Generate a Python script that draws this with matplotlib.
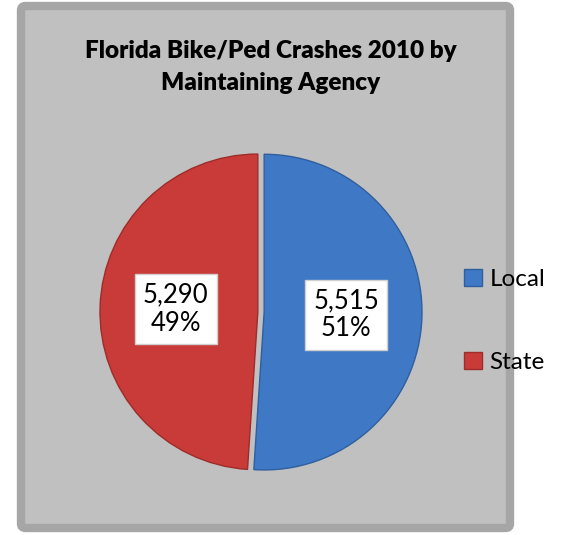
import numpy as np
import matplotlib.pyplot as plt
from matplotlib.patches import FancyBboxPatch, Patch

plt.rcParams['font.family'] = ['Lato', 'DejaVu Sans']

labels = ['Local', 'State']
crashes = [5515, 5290]
colors = ['#3f78c4', '#c93b38']
edges = ['#2f5f9e', '#9e2c2a']
title = 'Florida Bike/Ped Crashes 2010 by\nMaintaining Agency'

W, H = 569, 535
fig = plt.figure(figsize=(W / 100, H / 100), dpi=100)
fig.patch.set_facecolor('white')

# grey panel with thick border
panel = FancyBboxPatch((21 / W, 7 / H), 489 / W, 522 / H,
                       boxstyle='round,pad=0,rounding_size=0.008',
                       transform=fig.transFigure, facecolor='#c0c0c0',
                       edgecolor='#a6a6a6', linewidth=6, zorder=-5)
fig.patches.append(panel)

fig.text(271 / W, 1 - 67 / H, title, ha='center', va='center',
         fontsize=17.5, fontweight='heavy', linespacing=1.6)

cx, cy, r = 261, 312, 161
ax = fig.add_axes([(cx - r) / W, (H - cy - r) / H, 2 * r / W, 2 * r / H])
ax.set_zorder(2)
total = sum(crashes)


def fmt(p):
    return f'{round(p * total / 100):,}\n{p:.0f}%'


wedges, texts, autotexts = ax.pie(crashes, colors=colors, startangle=90,
                                  counterclock=False, explode=[0.02, 0.02],
                                  autopct=fmt, pctdistance=0.52,
                                  wedgeprops=dict(linewidth=1.0))
for w, ec in zip(wedges, edges):
    w.set_edgecolor(ec)
for t in autotexts:
    t.set_fontsize(18.5)
    t.set_linespacing(1.15)
    t.set_bbox(dict(facecolor='white', edgecolor='#d0d0d0', pad=6))
ax.set_xlim(-1.02, 1.02)
ax.set_ylim(-1.02, 1.02)
ax.axis('off')

handles = [Patch(facecolor=c, edgecolor=e) for c, e in zip(colors, edges)]
fig.legend(handles, labels, loc='center left',
           bbox_to_anchor=(464 / W, 1 - 321 / H), frameon=False,
           fontsize=17.5, handlelength=0.75, handleheight=0.7,
           handletextpad=0.3, labelspacing=2.55, borderpad=0,
           borderaxespad=0)

fig.savefig('out.png', dpi=100, facecolor=fig.get_facecolor())
